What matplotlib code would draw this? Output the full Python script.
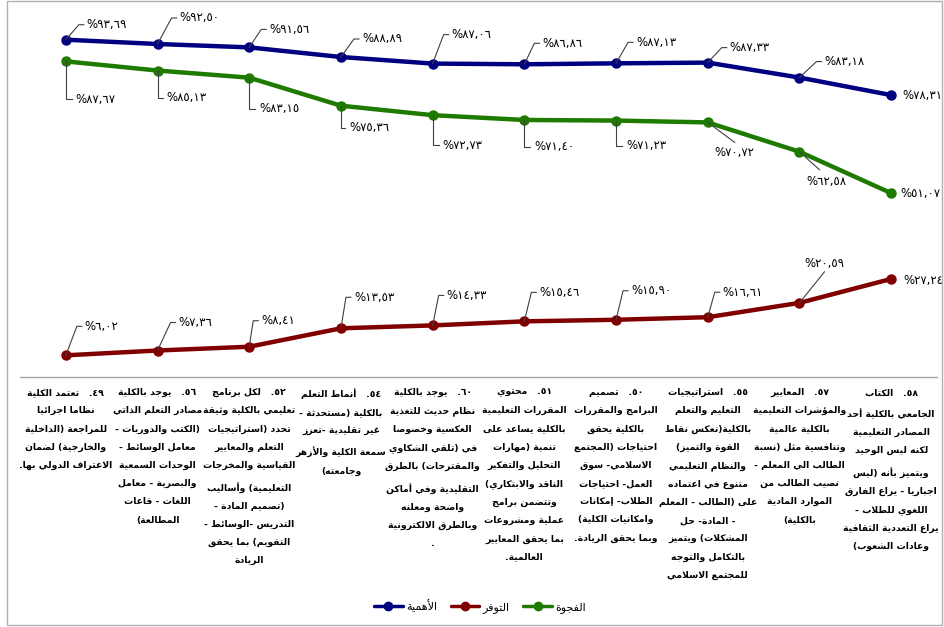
import matplotlib
matplotlib.use("Agg")
import matplotlib.pyplot as plt
import matplotlib.transforms as mtransforms
from matplotlib.patches import Rectangle
from matplotlib.lines import Line2D

# ---- data ----
category_lines = [
    ["٤٩.   تعتمد الكلية", "نظاما اجرائيا", "للمراجعة (الداخلية", "والخارجية) لضمان",
     "الاعتراف الدولي بها."],
    ["٥٦.   يوجد بالكلية", "مصادر التعلم الذاتي", "(الكتب والدوريات -", "معامل الوسائط -",
     "الوحدات السمعية", "والبصرية - معامل", "اللغات - قاعات", "المطالعة)"],
    ["٥٢.   لكل برنامج", "تعليمي بالكلية وثيقة", "تحدد (استراتيجيات", "التعلم والمعايير",
     "القياسية والمخرجات", "التعليمية) وأساليب", "(تصميم المادة -", "التدريس -الوسائط -",
     "التقويم) بما يحقق", "الريادة"],
    ["٥٤.   أنماط التعلم", "بالكلية (مستحدثة -", "غير تقليدية -تعزز", "سمعة الكلية والأزهر",
     "وجامعته)"],
    ["٦٠.   يوجد بالكلية", "نظام حديث للتغذية", "العكسية وخصوصا", "في (تلقي الشكاوي",
     "والمقترحات) بالطرق", "التقليدية وفي أماكن", "واضحة ومعلنه", "وبالطرق الالكترونية", "."],
    ["٥١.   محتوي", "المقررات التعليمية", "بالكلية يساعد على", "تنمية (مهارات",
     "التحليل والتفكير", "الناقد والابتكاري)", "وتتضمن برامج", "عملية ومشروعات",
     "بما يحقق المعايير", "العالمية."],
    ["٥٠.   تصميم", "البرامج والمقررات", "بالكلية يحقق", "احتياجات (المجتمع",
     "الاسلامي- سوق", "العمل- احتياجات", "الطلاب- إمكانات", "وامكانيات الكلية)",
     "وبما يحقق الريادة."],
    ["٥٥.   استراتيجيات", "التعليم والتعلم", "بالكلية(تعكس نقاط", "القوة والتميز)",
     "والنظام التعليمي", "متنوع في اعتماده", "على (الطالب - المعلم", "- المادة- حل",
     "المشكلات) ويتميز", "بالتكامل والتوجه", "للمجتمع الاسلامي"],
    ["٥٧.   المعايير", "والمؤشرات التعليمية", "بالكلية عالمية", "وتنافسية مثل (نسبة",
     "الطالب الي المعلم -", "نصيب الطالب من", "الموارد المادية", "بالكلية)"],
    ["٥٨.   الكتاب", "الجامعي بالكلية أحد", "المصادر التعليمية", "لكنه ليس الوحيد",
     "ويتميز بأنه (ليس", "اجباريا - يراع الفارق", "اللغوي للطلاب -",
     "يراع التعددية الثقافية", "وعادات الشعوب)"],
]

importance = [93.69, 92.50, 91.56, 88.89, 87.06, 86.86, 87.13, 87.33, 83.18, 78.31]
availability = [6.02, 7.36, 8.41, 13.53, 14.33, 15.46, 15.90, 16.61, 20.59, 27.24]
gap = [87.67, 85.13, 83.15, 75.36, 72.73, 71.40, 71.23, 70.72, 62.58, 51.07]

series_names = ["الأهمية", "التوفر", "الفجوة"]

# ---- simple Arabic shaping + right-to-left ordering ----
AR_LETTERS = "ءآأؤإئابةتثجحخدذرزسشصضطظعغفقكلمنهوىي"
AR_NFORMS = [1, 2, 2, 2, 2, 4, 2, 4, 2, 4, 4, 4, 4, 4] + [2] * 4 + [4] * 15 + [2, 2, 4]
FORMS = {}
_code = 0xFE80
for _ch, _n in zip(AR_LETTERS, AR_NFORMS):
    FORMS[_ch] = (_code, _n)
    _code += _n
LAM_ALEF = {"آ": 0xFEF5, "أ": 0xFEF7, "إ": 0xFEF9, "ا": 0xFEFB}
DIGITS = set("٠١٢٣٤٥٦٧٨٩0123456789")
MIRROR = {"(": ")", ")": "("}


def joins_next(c):
    return c in FORMS and FORMS[c][1] == 4


def joins_prev(c):
    return c in FORMS and FORMS[c][1] >= 2


def shape(text):
    out = []
    i = 0
    n = len(text)
    while i < n:
        c = text[i]
        if c not in FORMS:
            out.append(c)
            i += 1
            continue
        p = joins_next(text[i - 1]) if i > 0 else False
        if c == "ل" and i + 1 < n and text[i + 1] in LAM_ALEF:
            out.append(chr(LAM_ALEF[text[i + 1]] + (1 if p else 0)))
            i += 2
            continue
        q = joins_prev(text[i + 1]) if i + 1 < n else False
        base, nf = FORMS[c]
        if nf == 4:
            f = 3 if (p and q) else 1 if p else 2 if q else 0
        elif nf == 2:
            f = 1 if p else 0
        else:
            f = 0
        out.append(chr(base + f))
        i += 1
    return "".join(out)


def rtl(text):
    s = shape(text)
    tokens = []
    for ch in s:
        isd = ch in DIGITS
        if tokens and tokens[-1][0] and isd:
            tokens[-1][1].append(ch)
        else:
            tokens.append([isd, [ch]])
    parts = []
    for isd, chs in reversed(tokens):
        if isd:
            parts.append("".join(chs))
        else:
            parts.append("".join(MIRROR.get(c, c) for c in reversed(chs)))
    return "".join(parts)


def pct_label(v):
    s = f"{v:.2f}".replace(".", ",")
    return "%" + s.translate(str.maketrans("0123456789", "٠١٢٣٤٥٦٧٨٩"))


# ---- label placement (pixel offsets from the point, y downwards) ----
imp_off = [(21, -15), (22, -26), (20, -18), (21, -18), (19, -29),
           (18, -21), (20, -21), (22, -15), (25, -16), (11, 0)]
imp_lead = [[(0, 0), (dx - 8, dy), (dx - 3, dy)] for dx, dy in imp_off[:9]] + [None]

gap_off = [(10, 38), (9, 27), (10, 31), (8, 22), (10, 30),
           (10, 27), (10, 25), (7, 30), (7, 30), (9, 0)]
gap_lead = [[(0, 0), (0, dy), (dx - 4, dy)] for dx, dy in gap_off[:7]]
gap_lead += [[(0, 0), (27, 20)], [(0, 0), (20, 18)], None]

ava_off = [(19, -29), (21, -28), (12, -26), (13, -31), (14, -30),
           (15, -29), (15, -29), (15, -25), (5, -39), (12, 2)]
ava_lead = [[(0, 0), (dx - 8, dy), (dx - 3, dy)] for dx, dy in ava_off[:8]]
ava_lead += [[(0, 0), (25, -31)], None]

BLUE = "#000080"
RED = "#800000"
GREEN = "#1E7B00"

W, H = 944, 627
fig = plt.figure(figsize=(W / 100, H / 100), dpi=100)
ax = fig.add_axes([20 / W, 1 - 377 / H, 917 / W, 360 / H])
ax.set_xlim(-0.5, 9.5)
ax.set_ylim(0, 100)
for sp in ["top", "right", "left"]:
    ax.spines[sp].set_visible(False)
ax.spines["bottom"].set_color("#A6A6A6")
ax.spines["bottom"].set_linewidth(1.0)
ax.set_xticks([])
ax.set_yticks([])
ax.patch.set_alpha(0)

# chart border
fig.patches.append(Rectangle((7 / W, 2 / H), 935 / W, 624 / H, transform=fig.transFigure,
                             fill=False, edgecolor="#B0B0B0", linewidth=1.0))

x = list(range(len(importance)))
series = [
    (importance, BLUE, imp_off, imp_lead),
    (availability, RED, ava_off, ava_lead),
    (gap, GREEN, gap_off, gap_lead),
]
handles = []
for vals, color, offs, leads in series:
    h, = ax.plot(x, vals, color=color, lw=3.2, marker="o", ms=6.5,
                 solid_capstyle="round", zorder=3)
    handles.append(h)
    for xi, v, (dx, dy), lead in zip(x, vals, offs, leads):
        ax.annotate(pct_label(v), (xi, v), xytext=(dx, -dy), textcoords="offset pixels",
                    ha="left", va="center", fontsize=8.5, color="black",
                    family="DejaVu Sans")
        if lead is not None:
            px, py = ax.transData.transform((xi, v))
            xs = [px + a for a, b in lead]
            ys = [py - b for a, b in lead]
            fig.add_artist(Line2D(xs, ys, transform=None, color="#404040", lw=0.8, zorder=2))

# category labels under the axis
trans = mtransforms.blended_transform_factory(ax.transData, fig.transFigure)
for xi, lines in zip(x, category_lines):
    txt = "\n".join(rtl(line) for line in lines)
    ax.text(xi, 1 - 388 / H, txt, transform=trans, ha="center", va="top",
            multialignment="center", fontsize=6.7, fontweight="bold",
            family="DejaVu Sans", linespacing=2.3, clip_on=False)

leg = fig.legend(handles, [rtl(s) for s in series_names], loc="center",
                 bbox_to_anchor=(480 / W, 1 - 606 / H), ncol=3, frameon=False,
                 handlelength=2.6, columnspacing=1.2, handletextpad=0.3,
                 prop={"family": "DejaVu Sans", "size": 8})
for line in leg.get_lines():
    line.set_linewidth(2.5)
    line.set_markersize(6)

fig.savefig("out.png", dpi=100)
